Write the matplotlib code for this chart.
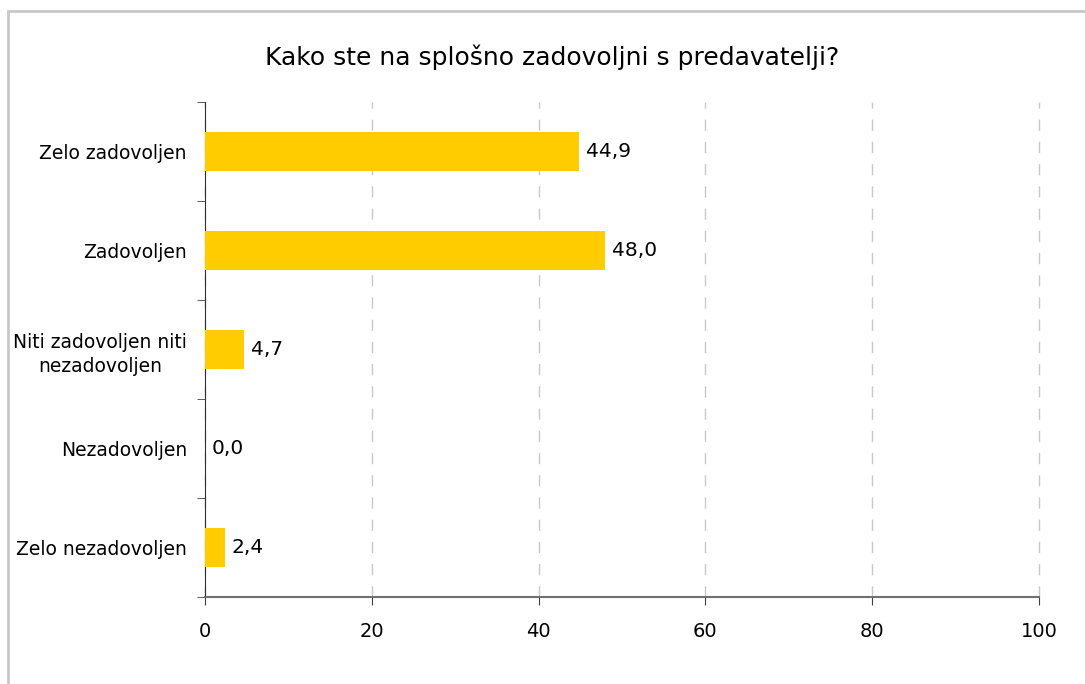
import matplotlib
matplotlib.use("Agg")
import matplotlib.pyplot as plt
from matplotlib.patches import Rectangle
import numpy as np

# data
categories = ["Zelo zadovoljen", "Zadovoljen", "Niti zadovoljen niti\nnezadovoljen",
              "Nezadovoljen", "Zelo nezadovoljen"]
values = [44.9, 48.0, 4.7, 0.0, 2.4]
x_ticks = [0, 20, 40, 60, 80, 100]
title = "Kako ste na splošno zadovoljni s predavatelji?"

plt.rcParams["font.family"] = ["DejaVu Sans"]

fig = plt.figure(figsize=(10.85, 6.84), dpi=100)
ax = fig.add_axes([205 / 1085, 1 - 597 / 684, 834 / 1085, 495 / 684])

# outer frame (only left and top visible in the reference)
fig.patches.append(Rectangle((8 / 1085, -0.1), 1.2, 1.1 - 11 / 684,
                             transform=fig.transFigure, fill=False,
                             edgecolor="#c8c8c8", linewidth=2))

y = np.arange(len(categories))
ax.barh(y, values, height=0.4, color="#ffcc00", zorder=3)
for yi, v in zip(y, values):
    ax.text(v + 0.8, yi, f"{v:.1f}".replace(".", ","), va="center", ha="left",
            fontsize=14.5, color="#000000", zorder=4)

ax.set_xlim(0, 100)
ax.set_ylim(len(categories) - 0.5, -0.5)
ax.set_xticks(x_ticks)
ax.set_xticklabels([str(t) for t in x_ticks], fontsize=14)
ax.set_yticks(y)
ax.set_yticklabels(categories, fontsize=13.5, multialignment="center", linespacing=1.35)
ax.set_yticks(np.arange(len(categories) + 1) - 0.5, minor=True)
ax.tick_params(axis="y", which="major", length=0, pad=13)
ax.tick_params(axis="y", which="minor", length=6, color="#404040")
ax.tick_params(axis="x", length=6, color="#404040", pad=12)

ax.grid(axis="x", linestyle=(0, (8, 8)), color="#c8c8c8", linewidth=1, zorder=0)
for gl in ax.get_xgridlines():
    gl.set_clip_on(False)
ax.spines["top"].set_visible(False)
ax.spines["right"].set_visible(False)
ax.spines["left"].set_color("#303030")
ax.spines["bottom"].set_color("#707070")
ax.spines["bottom"].set_linewidth(1.5)

fig.text(552 / 1085, 1 - 57 / 684, title, ha="center", va="center", fontsize=18)

fig.savefig("out.png", dpi=100)
